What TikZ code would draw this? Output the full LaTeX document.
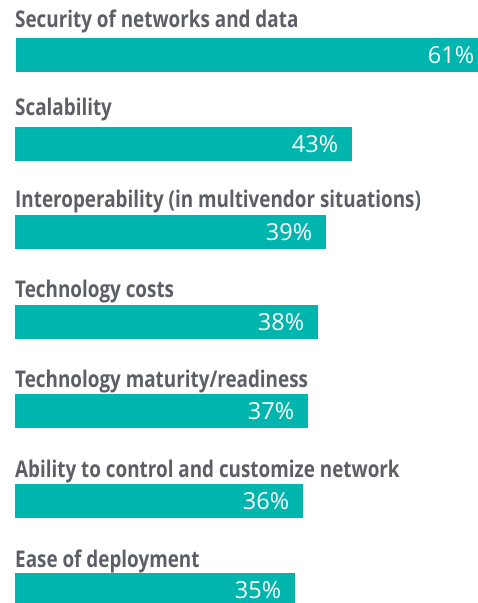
\documentclass[tikz,border=0pt]{standalone}
\usepackage{fontspec}
\setmainfont{Open Sans}
\newfontfamily\labelfont[FakeStretch=0.82]{Open Sans}
\newfontfamily\pctfont{Open Sans}
\definecolor{barteal}{HTML}{00B5AD}
\definecolor{labelgray}{HTML}{5D5F66}
\begin{document}
\begin{tikzpicture}[x=1pt,y=1pt,
  bar/.style={fill=barteal, draw=none, inner sep=0pt, minimum height=34pt, anchor=north west},
  lbl/.style={inner sep=0pt, anchor=base west, text=labelgray, font=\labelfont\bfseries\fontsize{23}{26}\selectfont},
  pct/.style={inner sep=0pt, anchor=base east, text=white, font=\pctfont\fontsize{23.5}{26}\selectfont}]
\useasboundingbox (0,0) rectangle (478,-603);
% bars
\node[bar, minimum width=462pt] (b1) at (16,-38) {};
\node[bar, minimum width=337pt] (b2) at (15,-127) {};
\node[bar, minimum width=311pt] (b3) at (15,-215) {};
\node[bar, minimum width=303pt] (b4) at (15,-305) {};
\node[bar, minimum width=293pt] (b5) at (15,-394) {};
\node[bar, minimum width=288pt] (b6) at (15,-484) {};
\node[bar, minimum width=280pt] (b7) at (15,-573) {};
% labels
\node[lbl] (l1) at (15,-27) {Security of networks and data};
\node[lbl] (l2) at (15,-115.5) {Scalability};
\node[lbl] (l3) at (15,-207) {Interoperability (in multivendor situations)};
\node[lbl] (l4) at (15,-297) {Technology costs};
\node[lbl] (l5) at (15,-387) {Technology maturity/readiness};
\node[lbl] (l6) at (15,-477) {Ability to control and customize network};
\node[lbl] (l7) at (15,-567) {Ease of deployment};
% percentages
\node[pct] (p1) at ([xshift=-4pt,yshift=-8.5pt]b1.east) {61\%};
\node[pct] (p2) at ([xshift=-14pt,yshift=-8.5pt]b2.east) {43\%};
\node[pct] (p3) at ([xshift=-14pt,yshift=-8.5pt]b3.east) {39\%};
\node[pct] (p4) at ([xshift=-14pt,yshift=-8.5pt]b4.east) {38\%};
\node[pct] (p5) at ([xshift=-14pt,yshift=-8.5pt]b5.east) {37\%};
\node[pct] (p6) at ([xshift=-14pt,yshift=-8.5pt]b6.east) {36\%};
\node[pct] (p7) at ([xshift=-14pt,yshift=-8.5pt]b7.east) {35\%};
\end{tikzpicture}
\end{document}
